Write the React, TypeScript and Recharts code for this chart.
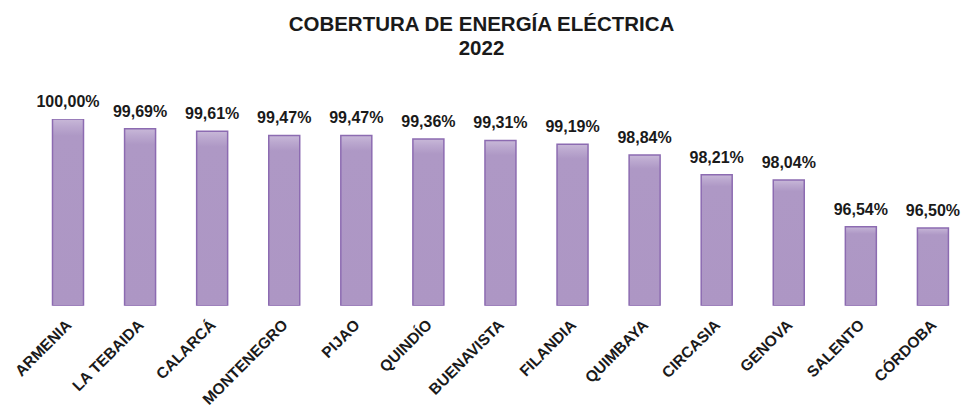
import React from 'react';
import { BarChart, Bar, XAxis, YAxis, LabelList } from 'recharts';

const municipios = ['ARMENIA', 'LA TEBAIDA', 'CALARCÁ', 'MONTENEGRO', 'PIJAO', 'QUINDÍO', 'BUENAVISTA', 'FILANDIA', 'QUIMBAYA', 'CIRCASIA', 'GENOVA', 'SALENTO', 'CÓRDOBA'];
const cobertura = [100.0, 99.69, 99.61, 99.47, 99.47, 99.36, 99.31, 99.19, 98.84, 98.21, 98.04, 96.54, 96.5];

const data = municipios.map((name, i) => ({ name, value: cobertura[i] }));

const FONT = 'Arial, "Liberation Sans", Helvetica, sans-serif';

const fmt = (v: number) => v.toFixed(2).replace('.', ',') + '%';

const Tick = (props: any) => {
  const { x, payload } = props;
  const ax = x + 5;
  const ay = 326;
  return (
    <text
      x={ax}
      y={ay}
      transform={`rotate(-45, ${ax}, ${ay})`}
      textAnchor="end"
      fontFamily={FONT}
      fontWeight="bold"
      fontSize={15.5}
      fill="#1a1a1a"
    >
      {payload.value}
    </text>
  );
};

export default function App() {
  return (
    <div style={{ position: 'absolute', left: 0, top: 0, width: 963, height: 409, overflow: 'hidden', background: '#fff', fontFamily: FONT }}>
      <div style={{ position: 'absolute', left: 0, top: 12, width: 963, textAlign: 'center', fontWeight: 'bold', fontSize: 20.5, lineHeight: '24px', color: '#1a1a1a' }}>
        COBERTURA DE ENERGÍA ELÉCTRICA
        <br />
        2022
      </div>
      <BarChart
        width={975}
        height={409}
        data={data}
        margin={{ top: 119, bottom: 0, left: 31.5, right: 6.5 }}
      >
        <defs>
          <linearGradient id="barGrad" x1="0" y1="0" x2="0" y2="1">
            <stop offset="0%" stopColor="#c8b8d8" />
            <stop offset="4%" stopColor="#bba8cf" />
            <stop offset="9%" stopColor="#ae98c5" />
            <stop offset="100%" stopColor="#ad96c4" />
          </linearGradient>
        </defs>
        <YAxis hide domain={[94, 100]} allowDataOverflow />
        <XAxis dataKey="name" axisLine={false} tickLine={false} interval={0} tick={<Tick />} height={103.3} />
        <Bar dataKey="value" barSize={31} fill="url(#barGrad)" stroke="#8c6bb1" strokeWidth={1.5} isAnimationActive={false}>
          <LabelList dataKey="value" position="top" offset={12} formatter={(v: any) => fmt(Number(v))} style={{ fontFamily: FONT, fontWeight: 'bold', fontSize: 16, fill: '#1a1a1a' }} />
        </Bar>
      </BarChart>
    </div>
  );
}
